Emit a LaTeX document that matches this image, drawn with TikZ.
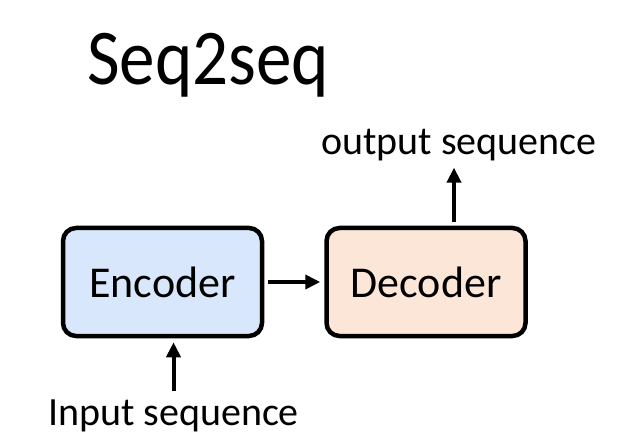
\documentclass[tikz,border=0pt]{standalone}
\usepackage{fontspec}
\setmainfont{Carlito}
\usepackage{xcolor}
\usetikzlibrary{positioning,arrows.meta}
\definecolor{encfill}{RGB}{216,231,251}
\definecolor{decfill}{RGB}{252,230,216}

\begin{document}
\begin{tikzpicture}[x=1pt,y=1pt,
    block/.style={draw,line width=4.5pt,rounded corners=13pt,minimum width=199pt,minimum height=108pt,
      font=\fontsize{44}{50}\selectfont},
    lbl/.style={font=\fontsize{40}{46}\selectfont,inner sep=0pt},
    arr/.style={line width=4pt,-{Triangle[length=15pt,width=14pt]}}]
    \useasboundingbox (0,0) rectangle (620,447);
    \node[anchor=base west,inner sep=0pt,xscale=0.9,transform shape,font=\fontsize{79}{90}\selectfont] (title) at (87,362) {Seq2seq};
    \node[block,fill=encfill] (enc) at (162.5,165) {Encoder};
    \node[block,fill=decfill,right=60pt of enc] (dec) {Decoder};
    \node[lbl,anchor=base] (out) at (459,292) {output sequence};
    \node[lbl,anchor=base] (in) at (173.5,22) {Input sequence};
    \coordinate (outfoot) at ([xshift=-5pt]out.south);
    \draw[arr,shorten <=4pt,shorten >=4pt] (enc) -- (dec);
    \draw[arr,shorten <=4pt,shorten >=6pt] (dec.north -| outfoot) -- (outfoot);
    \draw[arr,shorten <=8pt,shorten >=4pt] (in.north) -- (in.north |- enc.south);
  \end{tikzpicture}
\end{document}
